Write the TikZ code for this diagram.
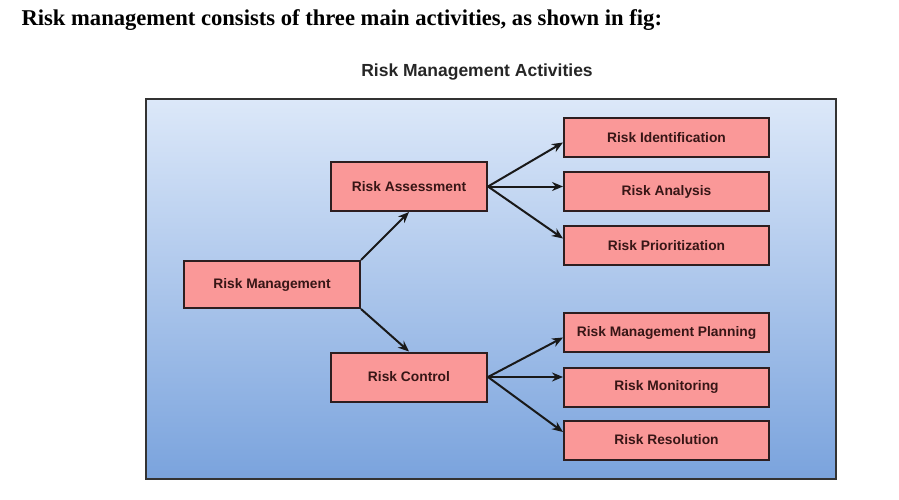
\documentclass[tikz,border=0pt]{standalone}
\usepackage{fontspec}
\setmainfont{Liberation Serif}
\setsansfont{Liberation Sans}
\usepackage{xcolor}
\usetikzlibrary{arrows.meta,positioning,calc}

\definecolor{bgtop}{RGB}{220,232,249}
\definecolor{bgbot}{RGB}{122,163,221}
\definecolor{boxfill}{RGB}{250,152,152}
\definecolor{boxline}{RGB}{45,30,32}
\definecolor{boxtext}{RGB}{55,22,22}

\tikzset{
  riskbox/.style={draw=boxline,line width=2pt,fill=boxfill,text=boxtext,
    font=\sffamily\bfseries\fontsize{13.8}{16}\selectfont,inner sep=0pt},
  midbox/.style={riskbox,minimum width=156pt,minimum height=49pt},
  sidebox/.style={riskbox,minimum width=205pt,minimum height=39pt},
  link/.style={->,line width=2pt,black!90}
}

\begin{document}
\begin{tikzpicture}[x=1pt,y=-1pt,>={Stealth[length=11pt,width=9pt]}]
  \useasboundingbox (0,0) rectangle (899,500);
  \node[anchor=base west,font=\bfseries\fontsize{22.6}{26}\selectfont] (head) at (18,26) {Risk management consists of three main activities, as shown in fig:};
  \node[anchor=base,font=\sffamily\bfseries\fontsize{17.5}{20}\selectfont,text=black!85] (title) at (477,77) {Risk Management Activities};
  % background panel
  \shade[top color=bgtop,bottom color=bgbot] (146,99) rectangle (836,479);
  \draw[line width=2.4pt,draw=black!80] (146,99) rectangle (836,479);
  \node[riskbox,minimum width=176pt,minimum height=47pt] (rm) at (272,284.5) {Risk Management};
  \node[midbox] (ra) at (409,186.5) {Risk Assessment};
  \node[midbox] (rc) at (409,377) {Risk Control};
  \node[sidebox] (ri) at (666.5,137.5) {Risk Identification};
  \node[sidebox] (ran) at (666.5,191.5) {Risk Analysis};
  \node[sidebox] (rp) at (666.5,245.5) {Risk Prioritization};
  \node[sidebox] (rmp) at (666.5,332.5) {Risk Management Planning};
  \node[sidebox] (rmo) at (666.5,387) {Risk Monitoring};
  \node[sidebox] (rr) at (666.5,440) {Risk Resolution};
  \draw[link] (rm.north east)--(ra.south);
  \draw[link] (rm.south east)--(rc.north);
  \draw[link] (ra.east)--([yshift=-5pt]ri.west);
  \draw[link] (ra.east)--(ra.east -| ran.west);
  \draw[link] (ra.east)--([yshift=7pt]rp.west);
  \draw[link] (rc.east)--([yshift=-5pt]rmp.west);
  \draw[link] (rc.east)--(rc.east -| rmo.west);
  \draw[link] (rc.east)--([yshift=8pt]rr.west);
\end{tikzpicture}
\end{document}
